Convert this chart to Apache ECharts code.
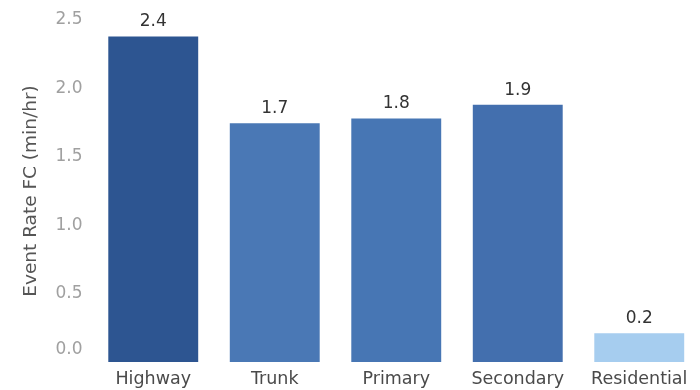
<!DOCTYPE html>
<html>
<head>
<meta charset="utf-8">
<script src="https://cdn.jsdelivr.net/npm/echarts@6/dist/echarts.min.js"></script>
<style>html,body{margin:0;padding:0;background:#fff;}#c{width:700px;height:390px;}</style>
</head>
<body>
<div id="c"></div>
<script>
const categories = ['Highway', 'Trunk', 'Primary', 'Secondary', 'Residential'];
const values = [2.38, 1.745, 1.78, 1.88, 0.21];
const barColors = ['#2d5591', '#4a78b5', '#4776b4', '#436fae', '#a6cdef'];
const yTicks = [0, 0.5, 1.0, 1.5, 2.0, 2.5];

const FONT = 'DejaVu Sans';
const chart = echarts.init(document.getElementById('c'));
chart.setOption({
  animation: false,
  backgroundColor: '#fff',
  grid: { left: 92.5, right: -6.5, top: 20, bottom: 28, containLabel: false },
  xAxis: {
    type: 'category',
    data: categories,
    axisLine: { show: false },
    axisTick: { show: false },
    axisLabel: { color: '#4a4a4a', fontSize: 17.5, fontFamily: FONT, margin: 8, interval: 0 }
  },
  yAxis: {
    type: 'value',
    min: yTicks[0],
    max: yTicks[yTicks.length - 1],
    interval: 0.5,
    name: 'Event Rate FC (min/hr)',
    nameLocation: 'middle',
    nameGap: 52,
    nameTextStyle: { color: '#555', fontSize: 18.5, fontFamily: FONT },
    splitLine: { show: false },
    axisLine: { show: false },
    axisTick: { show: false },
    axisLabel: {
      color: '#a0a0a0', fontSize: 17, fontFamily: FONT, margin: 10,
      formatter: v => v === 0 ? '{z|0.0}' : v.toFixed(1),
      rich: { z: { color: '#a0a0a0', fontSize: 17, fontFamily: FONT, padding: [0, 0, 24, 0] } }
    }
  },
  series: [{
    type: 'bar',
    data: values.map((v, i) => ({ value: v, itemStyle: { color: barColors[i] } })),
    barWidth: '74%',
    label: {
      show: true, position: 'top', distance: 6,
      color: '#333', fontSize: 17, fontFamily: FONT,
      formatter: p => p.value.toFixed(1)
    }
  }]
});
</script>
</body>
</html>
